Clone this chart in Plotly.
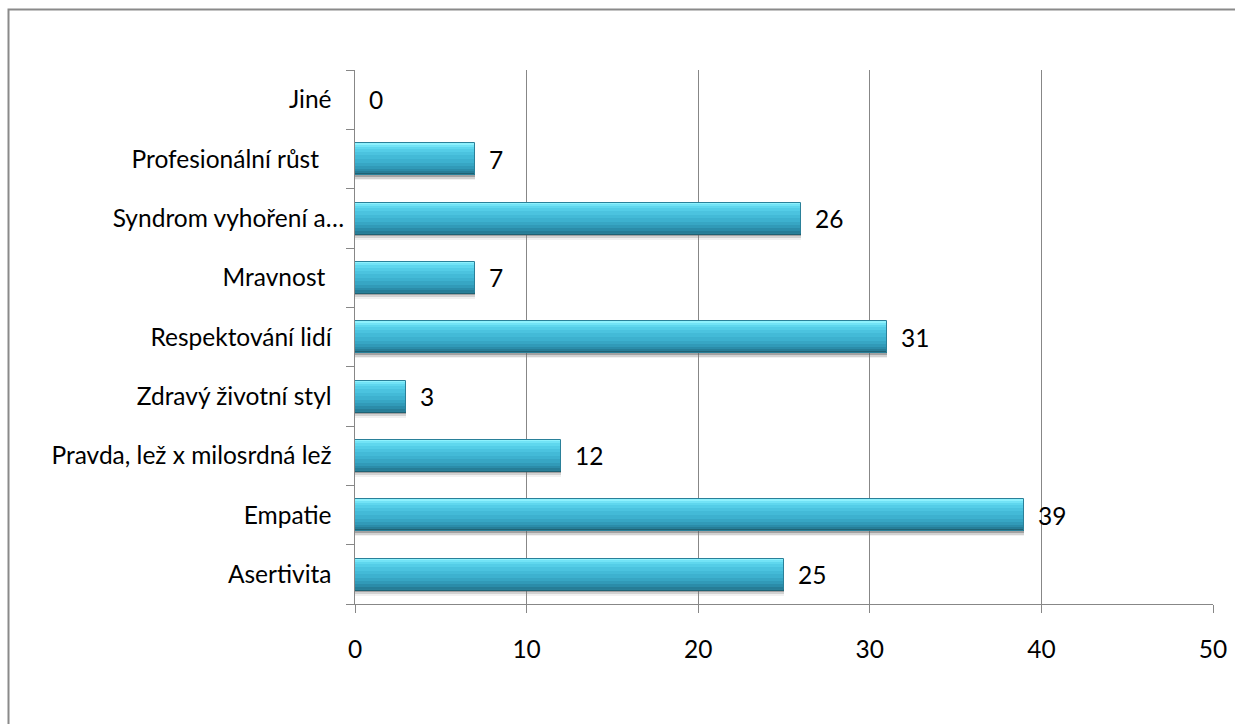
import plotly.graph_objects as go

# Categories listed bottom-to-top, as the y axis stacks them
categories = [
    "Asertivita",
    "Empatie",
    "Pravda, lež x milosrdná lež",
    "Zdravý životní styl",
    "Respektování lidí",
    "Mravnost",
    "Syndrom vyhoření a…",
    "Profesionální růst",
    "Jiné",
]
values = [25, 39, 12, 3, 31, 7, 26, 7, 0]
x_ticks = [0, 10, 20, 30, 40, 50]
# trailing non-breaking spaces after each axis label
label_pad = [2, 2, 2, 2, 2, 3, 0, 4, 2]

FONT = "Lato"
FSIZE = 24.5
GRID = "#878787"
BAR_BOTTOM = -0.265

tick_labels = [c + "\u00a0" * p for c, p in zip(categories, label_pad)]

# Each layer starts at the bar's bottom edge and reaches up to its own top;
# drawn from tallest to shortest they build a glossy top-to-bottom gradient.
layers = [
    (0.265, "#8ef1fd"),
    (0.240, "#72e3f6"),
    (0.210, "#5fd7ee"),
    (0.170, "#54cde7"),
    (0.120, "#4bc3df"),
    (0.060, "#43bad7"),
    (0.000, "#3db1cf"),
    (-0.060, "#37a6c4"),
    (-0.120, "#319ab8"),
    (-0.170, "#2b8ca9"),
    (-0.210, "#267d97"),
    (-0.240, "#1f6274"),
]
# soft drop shadow under each bar (top, bottom, colour)
shadow = [
    (BAR_BOTTOM, -0.360, "rgba(150,150,150,0.13)"),
    (BAR_BOTTOM, -0.330, "rgba(120,120,120,0.25)"),
    (BAR_BOTTOM, -0.300, "rgba(90,90,90,0.40)"),
]

fig = go.Figure()

for top, bottom, color in shadow:
    fig.add_trace(go.Bar(
        x=values, y=categories, orientation="h",
        base=0, offset=bottom, width=top - bottom,
        marker=dict(color=color, line=dict(width=0)),
        hoverinfo="skip", showlegend=False,
    ))

for top, color in layers:
    fig.add_trace(go.Bar(
        x=values, y=categories, orientation="h",
        base=0, offset=BAR_BOTTOM, width=top - BAR_BOTTOM,
        marker=dict(color=color, line=dict(width=0)),
        hoverinfo="skip", showlegend=False,
    ))

# thin darker outline around the whole bar
fig.add_trace(go.Bar(
    x=values, y=categories, orientation="h",
    base=0, offset=BAR_BOTTOM, width=-2 * BAR_BOTTOM,
    marker=dict(color="rgba(0,0,0,0)", line=dict(width=1, color="#2a8099")),
    hoverinfo="skip", showlegend=False,
))

# value labels to the right of each bar
for v, c in zip(values, categories):
    fig.add_annotation(
        x=v, y=c, text=str(v), showarrow=False,
        xanchor="left", yanchor="middle", xshift=12,
        font=dict(family=FONT, size=FSIZE, color="#000000"),
    )

# chart-area frame
fig.add_shape(
    type="rect", xref="paper", yref="paper",
    x0=(8.5 - 355) / 858, x1=(1240 - 355) / 858,
    y0=(604 - 730) / 534, y1=1 + (70 - 9.5) / 534,
    line=dict(color="#8a8a8a", width=2), fillcolor="rgba(0,0,0,0)",
    layer="below",
)

fig.update_layout(
    width=1235, height=724,
    margin=dict(l=355, r=22, t=70, b=120, autoexpand=False),
    paper_bgcolor="white", plot_bgcolor="white",
    barmode="overlay", bargap=0,
    font=dict(family=FONT, size=FSIZE, color="#000000"),
    showlegend=False,
    xaxis=dict(
        range=[0, 50], tickvals=x_ticks, automargin=False,
        showgrid=True, gridcolor=GRID, gridwidth=1,
        zeroline=False,
        showline=True, linecolor=GRID, linewidth=1,
        ticks="outside", ticklen=8, tickcolor=GRID, tickwidth=1,
        ticklabelstandoff=16,
        tickfont=dict(family=FONT, size=FSIZE),
        fixedrange=True,
    ),
    yaxis=dict(
        type="category", categoryorder="array", categoryarray=categories,
        tickmode="array", tickvals=categories, ticktext=tick_labels,
        range=[-0.5, len(categories) - 0.5], automargin=False,
        showgrid=False, zeroline=False,
        showline=True, linecolor=GRID, linewidth=1,
        ticks="outside", tickson="boundaries", ticklen=8,
        tickcolor=GRID, tickwidth=1,
        ticklabelstandoff=5,
        tickfont=dict(family=FONT, size=FSIZE),
        fixedrange=True,
    ),
)

fig.write_html("out.html")
